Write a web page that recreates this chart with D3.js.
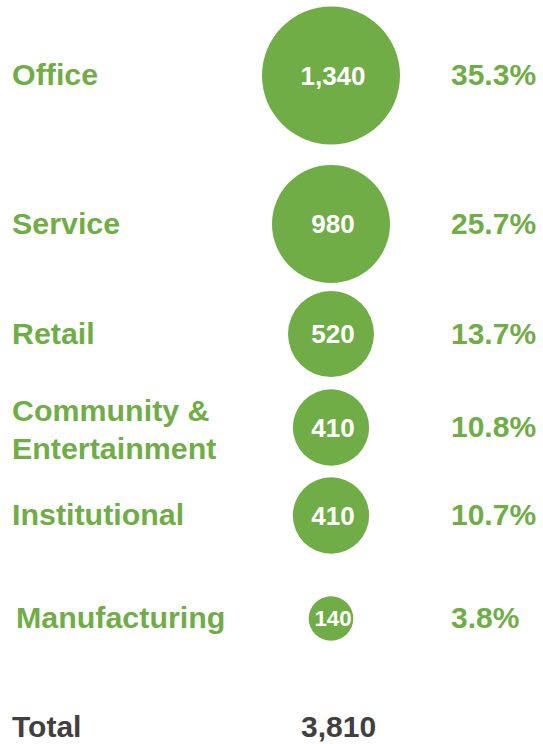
<!DOCTYPE html>
<html>
<head>
<meta charset="utf-8">
<script src="https://cdn.jsdelivr.net/npm/d3@7"></script>
<style>
  html, body { margin: 0; padding: 0; background: #ffffff; }
  svg { display: block; }
  text { font-family: "Liberation Sans", Arial, sans-serif; font-weight: bold; }
</style>
</head>
<body>
<div id="chart"></div>
<script>
// ---- Data ----
const categories = ["Office", "Service", "Retail", "Community & Entertainment", "Institutional", "Manufacturing"];
const labelLines = [["Office"], ["Service"], ["Retail"], ["Community &", "Entertainment"], ["Institutional"], ["Manufacturing"]];
const counts = [1340, 980, 520, 410, 410, 140];
const shares = [35.3, 25.7, 13.7, 10.8, 10.7, 3.8];
const totalLabel = "Total";
const totalValue = 3810;

// ---- Layout ----
const width = 543, height = 744;
const green = "#70AD47";
const dark = "#404040";

const svg = d3.select("#chart").append("svg")
  .attr("width", width).attr("height", height);

const rowY = d3.scaleOrdinal().domain(categories).range([75.5, 224, 334, 427.5, 515.5, 618.5]);
const r = d3.scaleSqrt().domain([0, d3.max(counts)]).range([0, 69]);
const cx = 331;
const fmt = d3.format(",");

const rows = categories.map((c, i) => ({ cat: c, lines: labelLines[i], count: counts[i], share: shares[i] }));

const g = svg.selectAll("g.row").data(rows).join("g").attr("class", "row");

g.append("circle")
  .attr("cx", cx)
  .attr("cy", d => rowY(d.cat))
  .attr("r", d => r(d.count))
  .attr("fill", green);

g.append("text")
  .attr("x", cx + 2)
  .attr("y", d => rowY(d.cat))
  .attr("dy", "0.35em")
  .attr("text-anchor", "middle")
  .attr("fill", "#ffffff")
  .attr("font-size", d => Math.min(26, r(d.count) * 1.0) + "px")
  .text(d => fmt(d.count));

const lineH = 38;
const labelX = d => d.cat === "Manufacturing" ? 16 : 12;
g.append("text")
  .attr("fill", green)
  .attr("font-size", "30.4px")
  .each(function(d) {
    const n = d.lines.length;
    const base = rowY(d.cat) + 9.5 - (n - 1) * lineH / 2 + (n > 1 ? 3 : 0);
    d3.select(this).selectAll("tspan").data(d.lines).join("tspan")
      .attr("x", labelX(d))
      .attr("y", (l, j) => base + j * lineH)
      .text(l => l);
  });

g.append("text")
  .attr("x", 451)
  .attr("y", d => rowY(d.cat) + 9.5)
  .attr("fill", green)
  .attr("font-size", "30px")
  .text(d => d.share.toFixed(1) + "%");

// Total row
svg.append("text")
  .attr("x", 12).attr("y", 736.5)
  .attr("fill", dark).attr("font-size", "30px")
  .text(totalLabel);

svg.append("text")
  .attr("x", 301).attr("y", 736.5)
  .attr("fill", dark).attr("font-size", "30px")
  .text(fmt(totalValue));
</script>
</body>
</html>
